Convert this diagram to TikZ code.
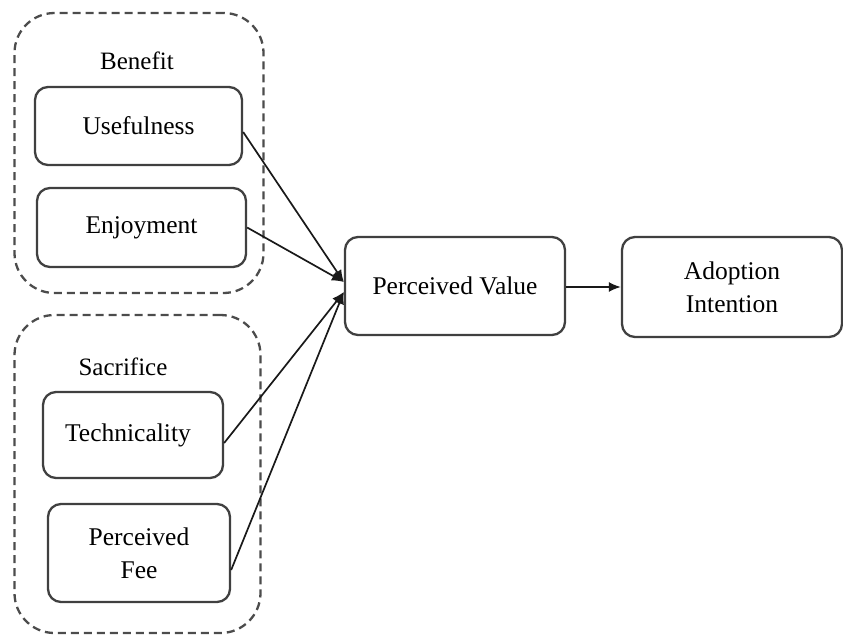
\documentclass[tikz,border=0pt]{standalone}
\usepackage{fontspec}
\setmainfont{Liberation Serif}
\usetikzlibrary{arrows.meta}
\begin{document}
\begin{tikzpicture}[x=1pt,y=-1pt,
  box/.style={draw=black!75,line width=2.3pt,rounded corners=13pt,align=center,
    font=\fontsize{25.5}{33}\selectfont,inner sep=0pt},
  group/.style={draw=black!70,line width=2.3pt,rounded corners=40pt,
    dash pattern=on 8pt off 5pt,inner sep=0pt},
  lbl/.style={font=\fontsize{25}{30}\selectfont,inner sep=0pt},
  arr/.style={draw=black!90,line width=1.7pt,-{Latex[length=12pt,width=10pt]}}]
\useasboundingbox (0,0) rectangle (843,637);

% dashed groupings
\node[group,minimum width=249pt,minimum height=280pt] (benefit) at (139,153) {};
\node[group,minimum width=246pt,minimum height=318pt] (sacrifice) at (137.5,474) {};
\node[lbl] (benefitlbl) at (137,61) {Benefit};
\node[lbl] (sacrificelbl) at (123,367) {Sacrifice};

% constructs
\node[box,minimum width=207pt,minimum height=78pt] (use) at (138.5,126) {Usefulness};
\node[box,minimum width=209pt,minimum height=79pt] (enj) at (141.5,227.5) {Enjoyment};
\node[box,minimum width=180pt,minimum height=86pt] (tech) at (133,435) {Technicality\hspace{10pt}};
\node[box,minimum width=182pt,minimum height=98pt] (fee) at (139,553) {Perceived\\Fee};
\node[box,minimum width=220pt,minimum height=98pt] (pv) at (455,286) {Perceived Value};
\node[box,minimum width=220pt,minimum height=100pt] (ai) at (732,287) {Adoption\\Intention};

% paths
\draw[arr] ([yshift=-6pt]use.east) -- ([yshift=4pt]pv.west);
\draw[arr] (enj.east) -- ([yshift=4pt]pv.west);
\draw[arr] ([yshift=-8pt]tech.east) -- ([yshift=-6pt]pv.west);
\draw[arr] ([yshift=-17pt]fee.east) -- ([yshift=-6pt]pv.west);
\draw[arr] ([yshift=-1pt]pv.east) -- ([yshift=0pt]ai.west);
\end{tikzpicture}
\end{document}
